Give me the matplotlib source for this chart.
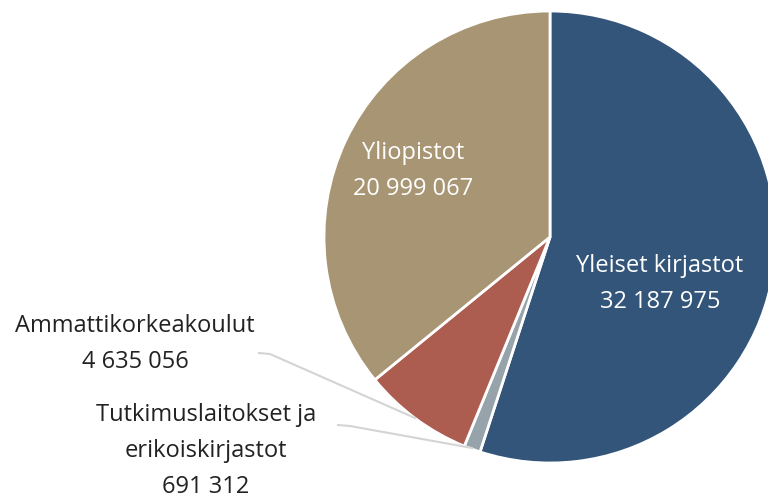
import matplotlib.pyplot as plt

# data
names = ['Yleiset kirjastot', 'Tutkimuslaitokset ja\nerikoiskirjastot',
         'Ammattikorkeakoulut', 'Yliopistot']
values = [32187975, 691312, 4635056, 20999067]
value_labels = ['32 187 975', '691 312', '4 635 056', '20 999 067']
colors = ['#34557a', '#97a3ab', '#ad5c50', '#a89574']

plt.rcParams['font.family'] = ['Open Sans', 'DejaVu Sans']

fig = plt.figure(figsize=(7.68, 5.04), dpi=100)
ax = fig.add_axes([0, 0, 1, 1])

# pie in pixel coordinates (y up)
cx, cy, r = 550, 504 - 237, 226
ax.pie(values, colors=colors, startangle=90, counterclock=False,
       center=(cx, cy), radius=r,
       wedgeprops=dict(edgecolor='white', linewidth=2))
ax.set_xlim(0, 768)
ax.set_ylim(0, 504)
ax.set_aspect('equal')
ax.axis('off')

fs = 17
ls = 1.65
ax.text(660, 504 - 284, names[0] + '\n' + value_labels[0], color='white',
        ha='center', va='center', fontsize=fs, linespacing=ls)
ax.text(413, 504 - 171, names[3] + '\n' + value_labels[3], color='white',
        ha='center', va='center', fontsize=fs, linespacing=ls)
ax.text(135, 504 - 344, names[2] + '\n' + value_labels[2], color='#222222',
        ha='center', va='center', fontsize=fs, linespacing=ls)
ax.text(206, 504 - 451, names[1] + '\n' + value_labels[1], color='#222222',
        ha='center', va='center', fontsize=fs, linespacing=ls)

# leader lines
ax.plot([259, 270, 415], [504 - 353, 504 - 354, 504 - 418],
        color='#d4d4d4', linewidth=1.5)
ax.plot([338, 350, 472], [504 - 425, 504 - 426, 504 - 448],
        color='#d4d4d4', linewidth=1.5)

fig.savefig('out.png', dpi=100)
